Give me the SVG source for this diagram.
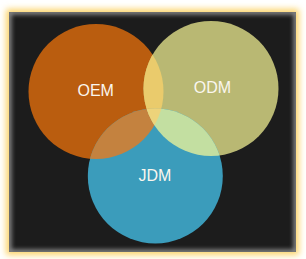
<svg xmlns="http://www.w3.org/2000/svg" width="306" height="259" viewBox="0 0 306 259">
  <style>
    .lbl { font-family: "Liberation Sans", Arial, sans-serif; font-size: 16px; fill: #FAF6EE; text-anchor: middle; }
  </style>
  <defs>
    <filter id="glow" x="-10%" y="-10%" width="120%" height="120%">
      <feGaussianBlur stdDeviation="3"/>
    </filter>
    <filter id="soft" x="-10%" y="-10%" width="120%" height="120%">
      <feGaussianBlur stdDeviation="2"/>
    </filter>
    <clipPath id="frameClip"><rect x="9" y="12" width="287" height="240"/></clipPath>
    <clipPath id="cOEM"><circle cx="96" cy="91.5" r="67.5"/></clipPath>
    <clipPath id="cODM"><circle cx="211" cy="88.5" r="67.5"/></clipPath>
    <clipPath id="cJDM"><circle cx="155.3" cy="176" r="67.5"/></clipPath>
  </defs>
  <rect width="306" height="259" fill="#FFFFFF"/>
  <g id="frame">
    <rect x="6" y="9" width="293" height="246" fill="#FCD46A" filter="url(#glow)"/>
    <rect x="9" y="12" width="287" height="240" fill="#1C1C1C"/>
    <g clip-path="url(#frameClip)">
      <rect x="9" y="12" width="287" height="240" fill="none" stroke="#8A8A8A" stroke-width="5" filter="url(#soft)"/>
    </g>
  </g>
  <g id="OEM">
    <circle cx="96" cy="91.5" r="67.5" fill="#BA5D0F"/>
  </g>
  <g id="ODM">
    <circle cx="211" cy="88.5" r="67.5" fill="#B9B873"/>
  </g>
  <g id="JDM">
    <circle cx="155.3" cy="176" r="67.5" fill="#3B9CBB"/>
  </g>
  <g id="overlaps">
    <g clip-path="url(#cOEM)"><circle cx="211" cy="88.5" r="67.5" fill="#EACB6C"/></g>
    <g clip-path="url(#cOEM)"><circle cx="155.3" cy="176" r="67.5" fill="#C4823F"/></g>
    <g clip-path="url(#cODM)"><circle cx="155.3" cy="176" r="67.5" fill="#C3DFA1"/></g>
    <g clip-path="url(#cOEM)"><g clip-path="url(#cODM)"><circle cx="155.3" cy="176" r="67.5" fill="#EDD37A"/></g></g>
  </g>
  <g id="labels">
    <text class="lbl" x="95.7" y="96">OEM</text>
    <text class="lbl" x="212.5" y="93">ODM</text>
    <text class="lbl" x="155" y="181">JDM</text>
  </g>
</svg>
